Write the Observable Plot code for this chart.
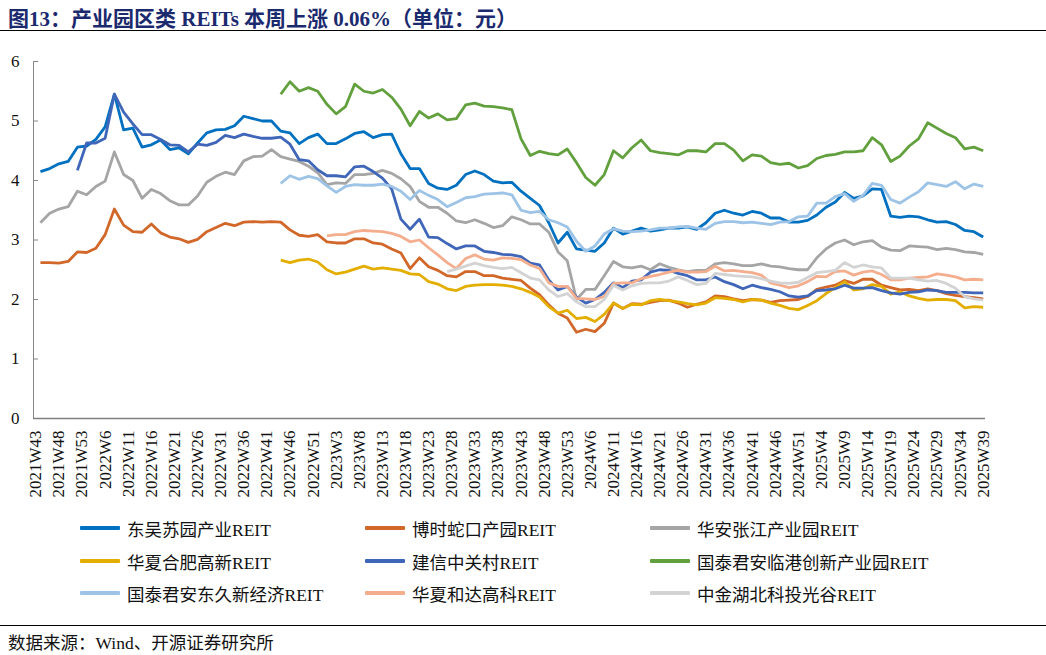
<!DOCTYPE html>
<html>
<head>
<meta charset="utf-8">
<script src="https://cdn.jsdelivr.net/npm/d3@7"></script>
<script src="https://cdn.jsdelivr.net/npm/@observablehq/plot@0.6"></script>
<style>
  html, body { margin: 0; padding: 0; background: #fff; }
  body { width: 1046px; height: 655px; position: relative; overflow: hidden;
         font-family: "Liberation Serif", "Noto Sans CJK SC", serif; }
  #title { position: absolute; left: 0; top: 0; width: 1046px; height: 31px;
           border-bottom: 1px solid #000; box-sizing: border-box; }
  #title span { position: absolute; left: 8px; top: 2px; font-size: 21px; font-weight: bold;
                color: #1b2a6e; white-space: nowrap;
                font-family: "Liberation Serif", "Noto Sans CJK SC", serif; }
  #chart { position: absolute; left: 0; top: 31px; }
  #legend { position: absolute; left: 0; top: 512px; width: 1046px; height: 100px; }
  .item { position: absolute; height: 20px; display: flex; align-items: center; }
  .sw { width: 40px; height: 4px; margin-right: 7px; border-radius: 1px; }
  .lab { font-size: 17.5px; color: #111; white-space: nowrap;
         font-family: "Liberation Serif", "Noto Sans CJK SC", serif; }
  #srcline { position: absolute; left: 0; top: 625px; width: 1046px; height: 0; border-top: 1px solid #000; }
  #source { position: absolute; left: 8px; top: 629px; font-size: 17.5px; color: #111; white-space: nowrap;
            font-family: "Liberation Serif", "Noto Sans CJK SC", serif; }
</style>
</head>
<body>
<div id="title"><span>图13：产业园区类 REITs 本周上涨 0.06%（单位：元）</span></div>
<div id="chart"></div>
<div id="legend"></div>
<div id="srcline"></div>
<div id="source">数据来源：Wind、开源证券研究所</div>
<script>
// ---- Data (weekly index; every second week) ----
const tickLabels = ["2021W43","2021W48","2021W53","2022W6","2022W11","2022W16","2022W21","2022W26","2022W31","2022W36","2022W41","2022W46","2022W51","2023W3","2023W8","2023W13","2023W18","2023W23","2023W28","2023W33","2023W38","2023W43","2023W48","2023W53","2024W6","2024W11","2024W16","2024W21","2024W26","2024W31","2024W36","2024W41","2024W46","2024W51","2025W4","2025W9","2025W14","2025W19","2025W24","2025W29","2025W34","2025W39"];

const seriesNames = ["东吴苏园产业REIT","博时蛇口产园REIT","华安张江产业园REIT","华夏合肥高新REIT","建信中关村REIT","国泰君安临港创新产业园REIT","国泰君安东久新经济REIT","华夏和达高科REIT","中金湖北科投光谷REIT"];
const seriesColors = ["#0070C0","#D2672A","#A5A5A5","#E3AE00","#3F66B8","#62A03E","#9DC3E6","#F4AE8E","#D3D3D3"];
const seriesStart = [1, 1, 1, 53, 9, 53, 53, 63, 89];

const dongwu = [4.15,4.2,4.28,4.32,4.56,4.58,4.69,4.9,5.45,4.85,
  4.88,4.56,4.6,4.68,4.52,4.55,4.45,4.63,4.8,4.85,
  4.86,4.92,5.08,5.04,5.0,5.0,4.83,4.8,4.62,4.72,
  4.78,4.62,4.62,4.7,4.79,4.82,4.72,4.77,4.78,4.45,
  4.2,4.2,3.95,3.87,3.85,3.92,4.1,4.16,4.1,3.99,
  3.96,3.97,3.82,3.7,3.58,3.29,2.95,3.13,2.85,2.83,
  2.81,2.95,3.2,3.1,3.15,3.2,3.15,3.17,3.2,3.2,
  3.22,3.18,3.29,3.45,3.5,3.45,3.42,3.48,3.45,3.37,
  3.37,3.3,3.3,3.33,3.42,3.55,3.64,3.8,3.7,3.74,
  3.86,3.85,3.4,3.38,3.4,3.39,3.34,3.3,3.31,3.26,
  3.16,3.14,3.05];
const boshi = [2.62,2.62,2.61,2.64,2.8,2.79,2.86,3.09,3.52,3.25,
  3.14,3.13,3.27,3.12,3.05,3.02,2.96,3.01,3.14,3.21,
  3.28,3.24,3.3,3.31,3.3,3.31,3.3,3.17,3.08,3.06,
  3.09,2.97,2.95,2.95,3.02,3.02,2.95,2.93,2.85,2.78,
  2.52,2.7,2.55,2.49,2.4,2.38,2.47,2.47,2.4,2.4,
  2.36,2.34,2.32,2.19,2.08,1.91,1.77,1.69,1.45,1.5,
  1.46,1.6,1.94,1.85,1.93,1.92,1.95,1.98,1.99,1.94,
  1.87,1.92,1.96,2.06,2.05,2.01,1.98,2.0,1.99,1.95,
  1.98,1.99,2.0,2.05,2.17,2.21,2.24,2.32,2.27,2.34,
  2.34,2.24,2.2,2.16,2.17,2.15,2.18,2.15,2.1,2.07,
  2.05,2.03,2.01];
const zhangjiang = [3.29,3.45,3.52,3.56,3.82,3.76,3.9,3.99,4.48,4.1,
  4.0,3.7,3.85,3.78,3.66,3.59,3.59,3.74,3.97,4.07,
  4.14,4.1,4.33,4.4,4.41,4.52,4.4,4.36,4.32,4.24,
  4.13,3.93,3.96,3.95,4.1,4.1,4.12,4.17,4.12,4.03,
  3.9,3.65,3.55,3.55,3.45,3.32,3.29,3.34,3.28,3.21,
  3.24,3.39,3.34,3.27,3.27,3.13,2.8,2.65,2.0,2.17,
  2.17,2.4,2.64,2.55,2.53,2.56,2.5,2.6,2.54,2.5,
  2.47,2.49,2.49,2.6,2.62,2.6,2.57,2.57,2.6,2.56,
  2.55,2.52,2.5,2.5,2.7,2.85,2.95,3.0,2.92,2.97,
  2.99,2.88,2.83,2.82,2.9,2.89,2.88,2.84,2.86,2.84,
  2.8,2.79,2.76];
const hefei = [2.66,2.62,2.66,2.68,
  2.63,2.5,2.43,2.46,2.51,2.56,2.51,2.53,2.51,2.49,
  2.43,2.42,2.3,2.26,2.18,2.15,2.22,2.24,2.25,2.25,
  2.24,2.22,2.18,2.12,2.04,1.88,1.77,1.82,1.68,1.7,
  1.63,1.75,1.94,1.85,1.92,1.91,1.98,2.0,1.98,1.96,
  1.93,1.91,1.94,2.03,2.02,2.0,1.96,2.0,1.99,1.94,
  1.9,1.85,1.83,1.9,1.98,2.1,2.2,2.3,2.16,2.18,
  2.25,2.22,2.09,2.13,2.06,2.02,1.99,2.0,2.0,1.98,
  1.86,1.88,1.87];
const zhongguancun = [4.17,4.63,4.63,4.71,5.45,5.15,
  4.95,4.77,4.77,4.69,4.6,4.59,4.48,4.61,4.59,4.64,
  4.76,4.72,4.78,4.74,4.71,4.71,4.73,4.61,4.35,4.33,
  4.18,4.08,4.08,4.06,4.23,4.24,4.15,4.04,3.86,3.35,
  3.18,3.35,3.05,3.04,2.94,2.85,2.9,2.9,2.81,2.79,
  2.76,2.75,2.72,2.61,2.58,2.33,2.16,2.22,2.04,1.94,
  2.0,2.12,2.28,2.2,2.31,2.33,2.46,2.5,2.49,2.44,
  2.4,2.33,2.33,2.38,2.3,2.25,2.18,2.24,2.2,2.17,
  2.13,2.06,2.04,2.06,2.15,2.16,2.18,2.24,2.19,2.19,
  2.2,2.15,2.11,2.09,2.12,2.13,2.16,2.15,2.12,2.12,
  2.12,2.11,2.11];
const lingang = [5.45,5.66,5.5,5.56,
  5.5,5.28,5.12,5.24,5.62,5.5,5.47,5.53,5.4,5.2,
  4.92,5.16,5.05,5.12,5.02,5.04,5.27,5.3,5.25,5.24,
  5.22,5.19,4.7,4.42,4.49,4.45,4.43,4.53,4.3,4.05,
  3.92,4.1,4.5,4.38,4.55,4.68,4.5,4.47,4.45,4.43,
  4.5,4.5,4.48,4.62,4.62,4.51,4.33,4.43,4.41,4.3,
  4.27,4.29,4.21,4.25,4.37,4.42,4.44,4.48,4.48,4.5,
  4.72,4.6,4.32,4.41,4.58,4.7,4.97,4.88,4.79,4.72,
  4.53,4.56,4.5];
const dongjiu = [3.95,4.08,4.02,4.07,
  4.03,3.91,3.8,3.9,3.93,3.92,3.92,3.94,3.9,3.82,
  3.68,3.83,3.75,3.68,3.56,3.63,3.71,3.73,3.77,3.78,
  3.79,3.76,3.5,3.46,3.48,3.34,3.29,3.22,2.98,2.81,
  2.9,3.1,3.19,3.15,3.14,3.15,3.17,3.2,3.2,3.22,
  3.23,3.2,3.18,3.28,3.31,3.31,3.29,3.3,3.28,3.26,
  3.3,3.31,3.39,3.4,3.62,3.62,3.73,3.78,3.65,3.75,
  3.95,3.92,3.68,3.62,3.72,3.81,3.96,3.93,3.9,3.98,
  3.86,3.94,3.9];
const heda = [3.07,3.09,3.09,3.14,3.16,3.15,3.14,3.11,3.06,
  2.97,3.0,2.87,2.75,2.62,2.52,2.69,2.75,2.68,2.66,
  2.7,2.69,2.67,2.58,2.52,2.28,2.22,2.22,2.02,2.01,
  2.0,2.05,2.27,2.28,2.28,2.35,2.39,2.42,2.46,2.49,
  2.46,2.46,2.47,2.56,2.48,2.49,2.47,2.45,2.41,2.28,
  2.24,2.2,2.23,2.3,2.39,2.38,2.47,2.48,2.41,2.46,
  2.48,2.42,2.33,2.33,2.36,2.37,2.38,2.43,2.41,2.38,
  2.33,2.34,2.33];
const guanggu = [2.47,2.51,2.56,2.61,2.57,2.54,
  2.52,2.54,2.45,2.36,2.33,2.16,2.05,2.1,1.96,1.88,
  1.88,2.0,2.24,2.16,2.23,2.27,2.28,2.28,2.31,2.38,
  2.32,2.25,2.27,2.44,2.42,2.4,2.39,2.38,2.35,2.31,
  2.28,2.27,2.29,2.37,2.45,2.47,2.49,2.62,2.54,2.58,
  2.55,2.53,2.36,2.36,2.36,2.33,2.31,2.32,2.27,2.19,
  2.05,2.01,1.99];

const yTicks = [0, 1, 2, 3, 4, 5, 6];

// ---- Build table ----
const seriesValues = [dongwu, boshi, zhangjiang, hefei, zhongguancun, lingang, dongjiu, heda, guanggu];
const rows = [];
seriesValues.forEach((vals, k) => {
  vals.forEach((v, j) => rows.push({ name: seriesNames[k], week: seriesStart[k] + 2 * j, value: v }));
});
const xTicks = tickLabels.map((_, i) => i * 5);
const serif = "'Liberation Serif', 'Times New Roman', serif";

const chart = Plot.plot({
  width: 1046,
  height: 477,
  marginLeft: 33,
  marginRight: 61,
  marginTop: 30,
  marginBottom: 90,
  style: { fontFamily: serif, color: "#000", background: "transparent", overflow: "visible" },
  x: { domain: [-0.5, 205.5], axis: null },
  y: { domain: [0, 6], axis: null },
  color: { domain: seriesNames, range: seriesColors },
  marks: [
    Plot.ruleX([-0.5], { y1: 0, y2: 6, stroke: "#868686", strokeWidth: 1 }),
    Plot.ruleY(yTicks, { x1: -0.5, x2: 0.6, stroke: "#868686", strokeWidth: 1 }),
    Plot.line(rows, { x: "week", y: "value", z: "name", stroke: "name", strokeWidth: 2.8,
                      strokeLinejoin: "round", strokeLinecap: "butt" }),
    Plot.ruleY([0], { stroke: "#7f7f7f", strokeWidth: 1.6 }),
    Plot.axisX({ ticks: xTicks, tickFormat: (d) => tickLabels[Math.round(d / 5)], tickRotate: -90,
                 tickSize: 0, tickPadding: 12, fontSize: 17, fontFamily: serif, fill: "#111", label: null }),
    Plot.axisY({ ticks: yTicks, tickFormat: (d) => String(d), tickSize: 0, tickPadding: 14,
                 fontSize: 17, fontFamily: serif, fill: "#111", label: null })
  ]
});
document.getElementById("chart").appendChild(chart);

// ---- Legend ----
const legend = document.getElementById("legend");
const colX = [80, 365, 650];
const rowY = [6, 39, 71];
seriesNames.forEach((name, k) => {
  const item = document.createElement("div");
  item.className = "item";
  item.style.left = colX[k % 3] + "px";
  item.style.top = rowY[Math.floor(k / 3)] + "px";
  const sw = document.createElement("div");
  sw.className = "sw";
  sw.style.background = seriesColors[k];
  const lab = document.createElement("span");
  lab.className = "lab";
  lab.textContent = name;
  item.appendChild(sw);
  item.appendChild(lab);
  legend.appendChild(item);
});
</script>
</body>
</html>
